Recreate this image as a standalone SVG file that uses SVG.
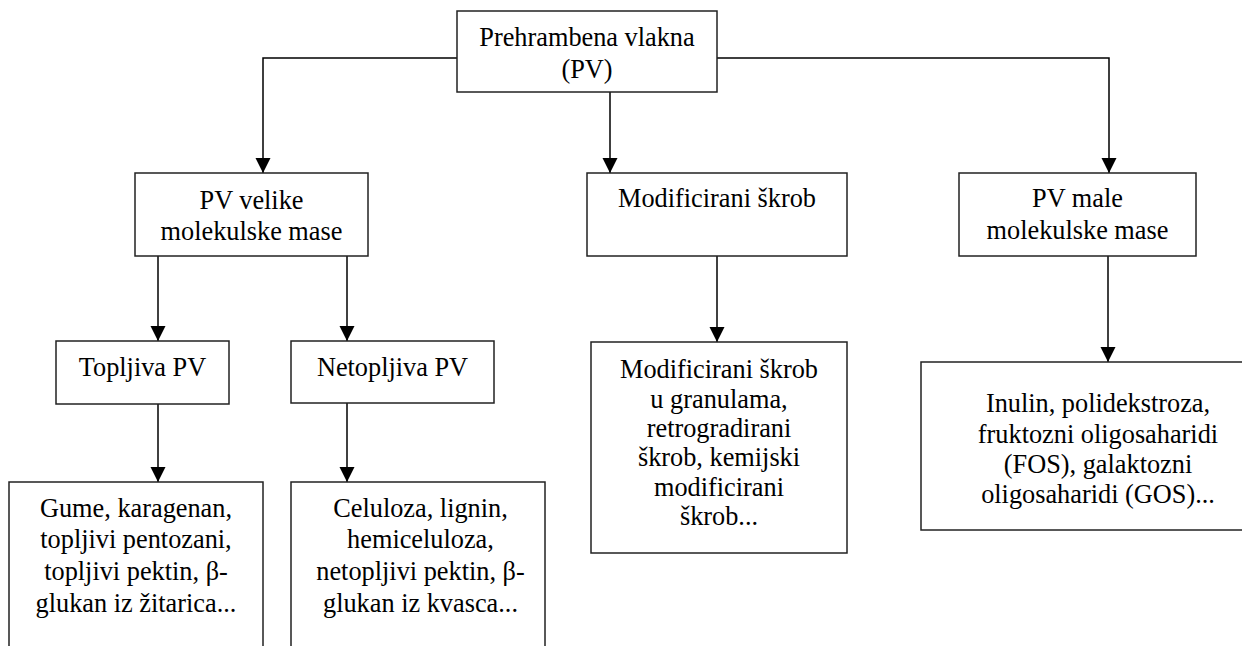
<svg xmlns="http://www.w3.org/2000/svg" width="1242" height="646" viewBox="0 0 1242 646">
<style>
.box{fill:#fff;stroke:#222;stroke-width:1.5}
.t{font-family:'Liberation Serif',Tinos,'Times New Roman',Times,'DejaVu Serif','Noto Serif',serif;font-size:26.3px;fill:#000;text-anchor:middle}
.c{fill:none;stroke:#000;stroke-width:1.5}
</style>
<defs>
<marker id="ah" markerUnits="userSpaceOnUse" markerWidth="16" markerHeight="16" refX="15" refY="8" orient="auto" viewBox="0 0 16 16">
<path d="M0,0.5 L15,8 L0,15.5 z" fill="#000"/>
</marker>
</defs>
<rect width="1242" height="646" fill="#fff"/>
<g id="connectors">
<path class="c" d="M457,58 H263 V173" marker-end="url(#ah)"/>
<path class="c" d="M610,92 V173" marker-end="url(#ah)"/>
<path class="c" d="M717,58 H1109 V173" marker-end="url(#ah)"/>
<path class="c" d="M158,256 V341" marker-end="url(#ah)"/>
<path class="c" d="M347,256 V341" marker-end="url(#ah)"/>
<path class="c" d="M158,404 V482" marker-end="url(#ah)"/>
<path class="c" d="M347,403 V482" marker-end="url(#ah)"/>
<path class="c" d="M717,256 V342" marker-end="url(#ah)"/>
<path class="c" d="M1108,256 V362" marker-end="url(#ah)"/>
</g>
<g id="root">
<rect class="box" x="457" y="11" width="260" height="81"/>
<text class="t" font-family="Liberation Serif, serif" x="587" y="46">Prehrambena vlakna</text>
<text class="t" x="587" y="78">(PV)</text>
</g>
<g id="pv-velike">
<rect class="box" x="135" y="173" width="233" height="83"/>
<text class="t" x="251.5" y="209">PV velike</text>
<text class="t" x="251.5" y="240">molekulske mase</text>
</g>
<g id="mod-skrob">
<rect class="box" x="587" y="173" width="260" height="83"/>
<text class="t" x="717" y="207">Modificirani škrob</text>
</g>
<g id="pv-male">
<rect class="box" x="959" y="173" width="237" height="83"/>
<text class="t" x="1077.5" y="207">PV male</text>
<text class="t" x="1077.5" y="239">molekulske mase</text>
</g>
<g id="topljiva">
<rect class="box" x="56" y="341" width="173" height="63"/>
<text class="t" x="142.5" y="376">Topljiva PV</text>
</g>
<g id="netopljiva">
<rect class="box" x="291" y="341" width="203" height="62"/>
<text class="t" x="392.5" y="376">Netopljiva PV</text>
</g>
<g id="topljiva-list">
<rect class="box" x="9" y="482" width="254" height="180"/>
<text class="t" x="136" y="517">Gume, karagenan,</text>
<text class="t" x="136" y="548">topljivi pentozani,</text>
<text class="t" x="136" y="580">topljivi pektin, β-</text>
<text class="t" x="136" y="612">glukan iz žitarica...</text>
</g>
<g id="netopljiva-list">
<rect class="box" x="291" y="482" width="254" height="180"/>
<text class="t" x="420.5" y="517">Celuloza, lignin,</text>
<text class="t" x="420.5" y="548">hemiceluloza,</text>
<text class="t" x="420.5" y="580">netopljivi pektin, β-</text>
<text class="t" x="420.5" y="612">glukan iz kvasca...</text>
</g>
<g id="mod-skrob-list">
<rect class="box" x="591" y="342" width="256" height="211"/>
<text class="t" x="719" y="378">Modificirani škrob</text>
<text class="t" x="719" y="407.5">u granulama,</text>
<text class="t" x="719" y="437">retrogradirani</text>
<text class="t" x="719" y="466">škrob, kemijski</text>
<text class="t" x="719" y="495.5">modificirani</text>
<text class="t" x="719" y="525">škrob...</text>
</g>
<g id="pv-male-list">
<rect class="box" x="921" y="362" width="360" height="168"/>
<text class="t" x="1098" y="412">Inulin, polidekstroza,</text>
<text class="t" x="1098" y="443">fruktozni oligosaharidi</text>
<text class="t" x="1098" y="473">(FOS), galaktozni</text>
<text class="t" x="1098" y="503">oligosaharidi (GOS)...</text>
</g>
</svg>
